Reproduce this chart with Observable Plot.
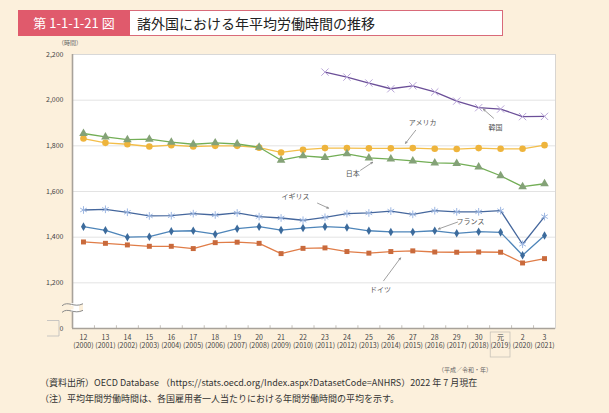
<!DOCTYPE html>
<html><head><meta charset="utf-8">
<script src="https://cdn.jsdelivr.net/npm/d3@7"></script>
<script src="https://cdn.jsdelivr.net/npm/@observablehq/plot@0.6"></script>
<style>
html,body{margin:0;padding:0;}
body{width:609px;height:413px;background:#fcf0dc;font-family:"Noto Sans CJK JP","Noto Sans",sans-serif;position:relative;overflow:hidden;}
#tag{position:absolute;left:18px;top:10px;width:112px;height:26px;background:#e05a6c;color:#fff;font-size:13px;line-height:26px;text-align:center;}
#title{position:absolute;left:130px;top:10px;width:365px;height:24px;background:#fff;border:1px solid #d96a79;border-left:none;color:#222;font-size:14px;line-height:24px;padding-left:7px;box-sizing:content-box;}
#unit{position:absolute;left:58px;top:38px;font-size:6px;color:#666;}
#xunit{position:absolute;left:438px;top:365px;font-size:6px;color:#666;}
#note1{position:absolute;left:40px;top:376px;font-size:9px;color:#333;}
#note2{position:absolute;left:40px;top:392px;font-size:9px;color:#333;}
#chart{position:absolute;left:0;top:38px;}
</style></head>
<body>
<div id="tag">第 1-1-1-21 図</div>
<div id="title">諸外国における年平均労働時間の推移</div>
<div id="unit">（時間）</div>
<div id="chart"></div>
<div id="xunit">（平成／令和・年）</div>
<div id="note1">（資料出所）OECD Database （https://stats.oecd.org/Index.aspx?DatasetCode=ANHRS）2022 年 7 月現在</div>
<div id="note2">（注）平均年間労働時間は、各国雇用者一人当たりにおける年間労働時間の平均を示す。</div>
<script>
const years = [2000,2001,2002,2003,2004,2005,2006,2007,2008,2009,2010,2011,2012,2013,2014,2015,2016,2017,2018,2019,2020,2021];
const eraLabels = ["12","13","14","15","16","17","18","19","20","21","22","23","24","25","26","27","28","29","30","元","2","3"];
const japan   = [1854,1839,1827,1829,1816,1807,1813,1808,1794,1737,1756,1749,1765,1747,1742,1734,1725,1723,1707,1669,1621,1634];
const usa     = [1832,1813,1807,1797,1803,1797,1800,1800,1792,1771,1783,1790,1790,1789,1789,1790,1787,1786,1790,1787,1787,1803];
const korea   = [null,null,null,null,null,null,null,null,null,null,null,2123,2101,2075,2050,2063,2036,1996,1967,1961,1928,1929];
const uk      = [1519,1522,1509,1493,1494,1503,1497,1506,1490,1484,1474,1487,1503,1506,1514,1500,1516,1511,1511,1516,1369,1490];
const france  = [1446,1430,1400,1402,1426,1428,1413,1437,1446,1431,1440,1446,1442,1428,1423,1423,1428,1417,1424,1421,1321,1407];
const germany = [1379,1373,1366,1360,1360,1350,1376,1378,1373,1328,1351,1353,1337,1330,1337,1340,1335,1334,1335,1334,1287,1306];
const yTicks = [1000,1200,1400,1600,1800,2000,2200];
const yTickLabels = ["0","1,200","1,400","1,600","1,800","2,000","2,200"];

// annotation labels (text position and arrow, in data units)
const annLabels = ["アメリカ","韓国","日本","イギリス","フランス","ドイツ"];
const annTx = [2015.45,2018.77,2012.26,2009.66,2017.63,2013.53];
const annTy = [1899,1881,1676,1576,1466,1169];
const annX1 = [2015.13,2018.68,2012.62,2010.66,2017.04,2013.67];
const annY1 = [1868,1921,1693,1549,1466,1209];
const annX2 = [2014.67,2018.22,2013.17,2011.16,2016.17,2014.44];
const annY2 = [1811,1960,1728,1527,1436,1309];

const seriesDefs = [
  {name:"ドイツ", values:germany, line:"#e07d48", mark:"#c96a3c", symbol:"square", r:2.8, filled:true},
  {name:"フランス", values:france, line:"#4e85b9", mark:"#3c6b9c", symbol:"diamond", r:2.6, filled:true},
  {name:"イギリス", values:uk, line:"#45679d", mark:"#9db7e2", symbol:"asterisk", r:3.6, filled:false},
  {name:"アメリカ", values:usa, line:"#f3be4a", mark:"#eeb43c", symbol:"circle", r:3.3, filled:true},
  {name:"日本", values:japan, line:"#73ae56", mark:"#84a277", symbol:"triangle", r:3.2, filled:true},
  {name:"韓国", values:korea, line:"#6b4f98", mark:"#b9a6d8", symbol:"times", r:3.4, filled:false}
];

const rows = [];
seriesDefs.forEach(s => s.values.forEach((v,i) => { if (v != null) rows.push({series:s.name, year:years[i], value:v}); }));
const ann = annLabels.map((t,i)=>({t, tx:annTx[i], ty:annTy[i], x1:annX1[i], y1:annY1[i], x2:annX2[i], y2:annY2[i]}));
const bounds = years.slice(0,-1).map(y => y + 0.5);

const marks = [
  Plot.ruleY(yTicks.slice(1,-1), {stroke:"#dcdcdc", strokeWidth:0.8}),
  Plot.frame({stroke:"#cfcfcf", strokeWidth:0.8}),
  Plot.ruleX([1999.5], {stroke:"#a8a29a", strokeWidth:1.6}),
  Plot.ruleY([1000], {stroke:"#a8a29a", strokeWidth:1.6}),
  Plot.ruleX(bounds, {y1:1000, y2:1012, stroke:"#b5b0a8", strokeWidth:0.8}),
  Plot.axisY(yTicks, {tickSize:0, tickPadding:9, tickFormat:(d,i)=>yTickLabels[yTicks.indexOf(d)], fontSize:7, fill:"#444", label:null}),
  Plot.axisX(years, {tickSize:0, tickPadding:5, tickFormat:(d)=>eraLabels[years.indexOf(d)] + "\n(" + d + ")", fontSize:7, lineHeight:1.25, fill:"#444", label:null}),
];
seriesDefs.forEach(s => {
  const data = rows.filter(r => r.series === s.name);
  marks.push(Plot.line(data, {x:"year", y:"value", stroke:s.line, strokeWidth:1.3}));
  if (s.filled) marks.push(Plot.dot(data, {x:"year", y:"value", symbol:s.symbol, r:s.r, fill:s.mark, stroke:"none"}));
  else marks.push(Plot.dot(data, {x:"year", y:"value", symbol:s.symbol, r:s.r, stroke:s.mark, strokeWidth:1, fill:"none"}));
});
marks.push(Plot.arrow(ann, {x1:"x1", y1:"y1", x2:"x2", y2:"y2", stroke:"#777", strokeWidth:0.7, headLength:4, headAngle:50}));
marks.push(Plot.text(ann, {x:"tx", y:"ty", text:"t", fontSize:7, fill:"#555", letterSpacing:1}));
// decorations: axis break, "0" bracket, box around 元(2019)
marks.push((index, scales, values, dims) => {
  const g = d3.create("svg:g");
  const x0 = scales.x(1999.5);
  const ya = scales.y(1104), yb = scales.y(1075);
  const wave = (y) => `M${x0-10},${y+1.5} C${x0-4},${y-4} ${x0+2},${y+4} ${x0+11},${y-0.5}`;
  g.append("path").attr("d", wave(ya) + ` L${x0+11},${yb-0.5} C${x0+2},${yb+4} ${x0-4},${yb-4} ${x0-10},${yb+1.5} Z`).attr("fill","#fcf0dc").attr("stroke","none");
  g.append("rect").attr("x", x0-1).attr("y", ya-1).attr("width", 8).attr("height", yb-ya+2).attr("fill","#fff");
  g.append("rect").attr("x", x0-1.5).attr("y", ya+1.5).attr("width", 3).attr("height", yb-ya-3).attr("fill","#fcf0dc");
  g.append("path").attr("d", wave(ya)).attr("fill","none").attr("stroke","#8a8a8a").attr("stroke-width",1);
  g.append("path").attr("d", wave(yb)).attr("fill","none").attr("stroke","#8a8a8a").attr("stroke-width",1);
  const y0 = scales.y(1000);
  g.append("path").attr("d", `M${x0-25},${y0-7.5} H${x0-13} V${y0+8} H${x0-25}`).attr("fill","none").attr("stroke","#bbb").attr("stroke-width",0.8);
  const bx1 = scales.x(2018.55), bx2 = scales.x(2019.45);
  g.append("rect").attr("x", bx1).attr("y", y0+4).attr("width", bx2-bx1).attr("height", 25).attr("fill","none").attr("stroke","#c8c2b8").attr("stroke-width",0.8);
  return g.node();
});

const chart = Plot.plot({
  width: 609, height: 324,
  marginLeft: 72, marginRight: 54, marginTop: 16, marginBottom: 34,
  style: {background:"transparent", fontFamily:"'Noto Sans CJK JP','Noto Sans',sans-serif"},
  x: {type:"linear", domain:[1999.5, 2021.5], axis:null},
  y: {domain:[1000, 2200], axis:null},
  marks: [
    Plot.rect([0], {x1:1999.5, x2:2021.5, y1:1000, y2:2200, fill:"#fff"}),
    ...marks
  ]
});
document.getElementById("chart").appendChild(chart);
</script>
</body></html>
